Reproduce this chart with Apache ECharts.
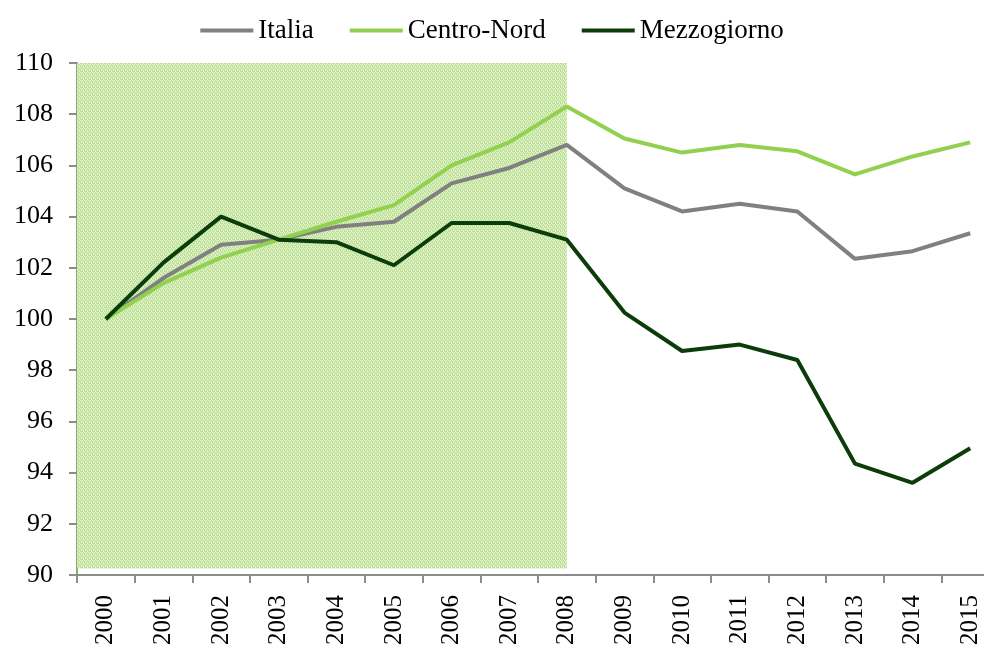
<!DOCTYPE html>
<html>
<head>
<meta charset="utf-8">
<script src="https://cdn.jsdelivr.net/npm/echarts@6/dist/echarts.min.js"></script>
<style>
  html, body { margin: 0; padding: 0; background: #fff; }
  #chart { width: 984px; height: 648px; }
</style>
</head>
<body>
<div id="chart"></div>
<script>
var years = ['2000', '2001', '2002', '2003', '2004', '2005', '2006', '2007',
  '2008', '2009', '2010', '2011', '2012', '2013', '2014', '2015'];
var italia = [100, 101.6, 102.9, 103.1, 103.6, 103.8, 105.3, 105.9,
  106.8, 105.1, 104.2, 104.5, 104.2, 102.35, 102.65, 103.35];
var centroNord = [100, 101.4, 102.4, 103.1, 103.8, 104.45, 106.0, 106.9,
  108.3, 107.05, 106.5, 106.8, 106.55, 105.65, 106.35, 106.9];
var mezzogiorno = [100, 102.2, 104.0, 103.1, 103.0, 102.1, 103.75, 103.75,
  103.1, 100.25, 98.75, 99.0, 98.4, 94.35, 93.6, 94.95];
// periodo evidenziato: 2000-2008
var shadeFrom = 0;
var shadeTo = 8.5;

// texture a puntini per l'area verde
var pat = document.createElement('canvas');
pat.width = 4;
pat.height = 4;
var ctx = pat.getContext('2d');
ctx.fillStyle = '#bfe298';
ctx.fillRect(0, 0, 4, 4);
ctx.fillStyle = '#e6f4d6';
ctx.fillRect(0, 0, 1, 1);
ctx.fillRect(2, 0, 1, 1);
ctx.fillRect(1, 2, 1, 1);
ctx.fillRect(3, 2, 1, 1);
ctx.fillRect(1, 1, 1, 1);
ctx.fillRect(3, 3, 1, 1);

var font = 'Liberation Serif';
var chart = echarts.init(document.getElementById('chart'));
chart.setOption({
  animation: false,
  textStyle: { fontFamily: font },
  legend: {
    top: 12,
    left: 'center',
    itemWidth: 53,
    itemHeight: 4,
    itemGap: 36,
    icon: 'rect',
    textStyle: { fontFamily: font, fontSize: 27, color: '#000' },
    data: ['Italia', 'Centro-Nord', 'Mezzogiorno']
  },
  grid: {
    left: 77, width: 922, top: 63, bottom: 73,
    containLabel: false, outerBoundsMode: 'none'
  },
  xAxis: [
    {
      type: 'category',
      data: years,
      boundaryGap: true,
      axisLine: { lineStyle: { color: '#8c8c8c', width: 2 } },
      axisTick: { show: true, length: 8, lineStyle: { color: '#8c8c8c', width: 2 } },
      axisLabel: { rotate: 90, fontSize: 25, color: '#000', margin: 20, fontFamily: font }
    },
    { type: 'value', min: 0, max: 16, show: false }
  ],
  yAxis: {
    type: 'value',
    min: 90,
    max: 110,
    interval: 2,
    splitLine: { show: false },
    axisLine: { show: true, lineStyle: { color: '#8aa870', width: 2 } },
    axisTick: { show: true, length: 8, lineStyle: { color: '#8c8c8c', width: 2 } },
    axisLabel: { fontSize: 26, color: '#000', margin: 24, fontFamily: font }
  },
  series: [
    {
      name: 'shade',
      type: 'line',
      xAxisIndex: 1,
      data: [],
      silent: true,
      z: 1,
      markArea: {
        silent: true,
        itemStyle: { color: { image: pat, repeat: 'repeat' } },
        data: [[{ xAxis: shadeFrom, yAxis: 90.25 }, { xAxis: shadeTo, yAxis: 110 }]]
      }
    },
    {
      name: 'Italia',
      type: 'line',
      data: italia,
      symbol: 'none',
      z: 3,
      itemStyle: { color: '#808080' },
      lineStyle: { color: '#808080', width: 4 }
    },
    {
      name: 'Centro-Nord',
      type: 'line',
      data: centroNord,
      symbol: 'none',
      z: 3,
      itemStyle: { color: '#92d050' },
      lineStyle: { color: '#92d050', width: 4 }
    },
    {
      name: 'Mezzogiorno',
      type: 'line',
      data: mezzogiorno,
      symbol: 'none',
      z: 4,
      itemStyle: { color: '#0b3d0b' },
      lineStyle: { color: '#0b3d0b', width: 4 }
    }
  ]
});
</script>
</body>
</html>
